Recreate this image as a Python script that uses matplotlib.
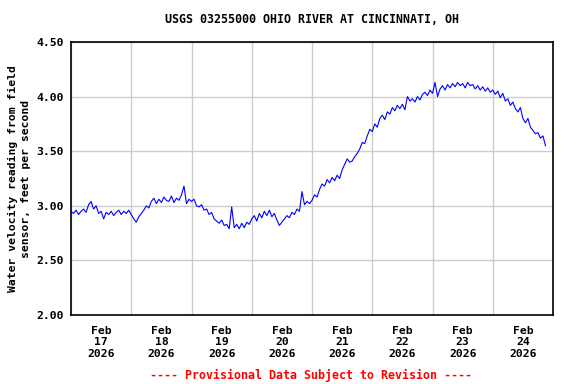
import matplotlib
matplotlib.use("Agg")
import matplotlib.pyplot as plt
import matplotlib.dates as mdates
import pandas as pd

# hourly readings, feet per second, starting 2026-02-17 00:00
feb17 = [2.95, 2.93, 2.96, 2.92, 2.95, 2.97, 2.94, 3.01, 3.04, 2.97, 3.00, 2.93,
         2.95, 2.88, 2.94, 2.92, 2.95, 2.91, 2.94, 2.96, 2.92, 2.95, 2.93, 2.96]
feb18 = [2.92, 2.88, 2.85, 2.90, 2.93, 2.96, 3.00, 2.98, 3.04, 3.07, 3.02, 3.06,
         3.03, 3.08, 3.05, 3.04, 3.09, 3.03, 3.07, 3.05, 3.10, 3.18, 3.02, 3.06]
feb19 = [3.04, 3.06, 3.00, 2.99, 3.01, 2.96, 2.97, 2.92, 2.94, 2.88, 2.86, 2.84,
         2.87, 2.82, 2.83, 2.79, 2.99, 2.80, 2.83, 2.79, 2.84, 2.80, 2.85, 2.83]
feb20 = [2.88, 2.91, 2.86, 2.93, 2.89, 2.95, 2.91, 2.96, 2.90, 2.93, 2.87, 2.82,
         2.85, 2.88, 2.91, 2.89, 2.94, 2.92, 2.97, 2.95, 3.13, 3.01, 3.04, 3.02]
feb21 = [3.05, 3.10, 3.08, 3.15, 3.20, 3.18, 3.24, 3.21, 3.26, 3.23, 3.28, 3.25,
         3.33, 3.38, 3.43, 3.40, 3.41, 3.45, 3.48, 3.52, 3.58, 3.57, 3.64, 3.70]
feb22 = [3.68, 3.75, 3.72, 3.80, 3.83, 3.79, 3.86, 3.84, 3.90, 3.87, 3.92, 3.89,
         3.93, 3.88, 4.00, 3.96, 3.98, 3.95, 4.00, 3.97, 4.02, 4.04, 4.01, 4.06]
feb23 = [4.03, 4.13, 4.00, 4.07, 4.10, 4.06, 4.11, 4.08, 4.12, 4.09, 4.13, 4.10,
         4.12, 4.08, 4.13, 4.10, 4.11, 4.07, 4.10, 4.06, 4.09, 4.05, 4.08, 4.04]
feb24 = [4.06, 4.02, 4.05, 3.99, 4.03, 3.96, 3.98, 3.92, 3.95, 3.89, 3.86, 3.90,
         3.80, 3.76, 3.80, 3.72, 3.69, 3.66, 3.67, 3.62, 3.64, 3.55]

velocity = feb17 + feb18 + feb19 + feb20 + feb21 + feb22 + feb23 + feb24
times = pd.date_range("2026-02-17 00:00", periods=len(velocity), freq="h")

yticks = [2.00, 2.50, 3.00, 3.50, 4.00, 4.50]
font = "DejaVu Sans Mono"

fig = plt.figure(figsize=(5.76, 3.84), dpi=100)
ax = fig.add_axes([0.1233, 0.1797, 0.8368, 0.7109])

ax.plot(times, velocity, color="#0000ff", lw=0.8)

ax.set_xlim(pd.Timestamp("2026-02-17"), pd.Timestamp("2026-02-25"))
ax.set_ylim(2.0, 4.5)

# labels at noon, grid lines at midnight
ax.xaxis.set_major_locator(mdates.HourLocator(byhour=[12]))
ax.xaxis.set_minor_locator(mdates.DayLocator())
ax.xaxis.set_major_formatter(mdates.DateFormatter("%b\n%d\n%Y"))
ax.set_yticks(yticks)
ax.set_yticklabels([f"{t:.2f}" for t in yticks])

ax.grid(which="minor", axis="x", color="#cccccc", lw=1)
ax.grid(which="major", axis="y", color="#cccccc", lw=1)
ax.grid(which="major", axis="x", visible=False)

ax.tick_params(axis="both", which="both", length=0)
ax.tick_params(axis="x", pad=8)
ax.tick_params(axis="y", pad=5)
for lab in ax.get_xticklabels() + ax.get_yticklabels():
    lab.set_family(font)
    lab.set_weight("bold")
    lab.set_fontsize(8.2)
    lab.set_linespacing(1.15)

for sp in ax.spines.values():
    sp.set_linewidth(1.2)
    sp.set_color("black")

ax.set_ylabel("Water velocity reading from field\nsensor, feet per second",
              family=font, weight="bold", fontsize=8.2, labelpad=4, linespacing=1.4)
fig.text(0.542, 0.948, "USGS 03255000 OHIO RIVER AT CINCINNATI, OH",
         family=font, weight="bold", fontsize=8.4, ha="center", va="center")
fig.text(0.540, 0.023, "---- Provisional Data Subject to Revision ----",
         family=font, weight="bold", fontsize=8.4, ha="center", va="center",
         color="red")

fig.savefig("out.png", dpi=100)
